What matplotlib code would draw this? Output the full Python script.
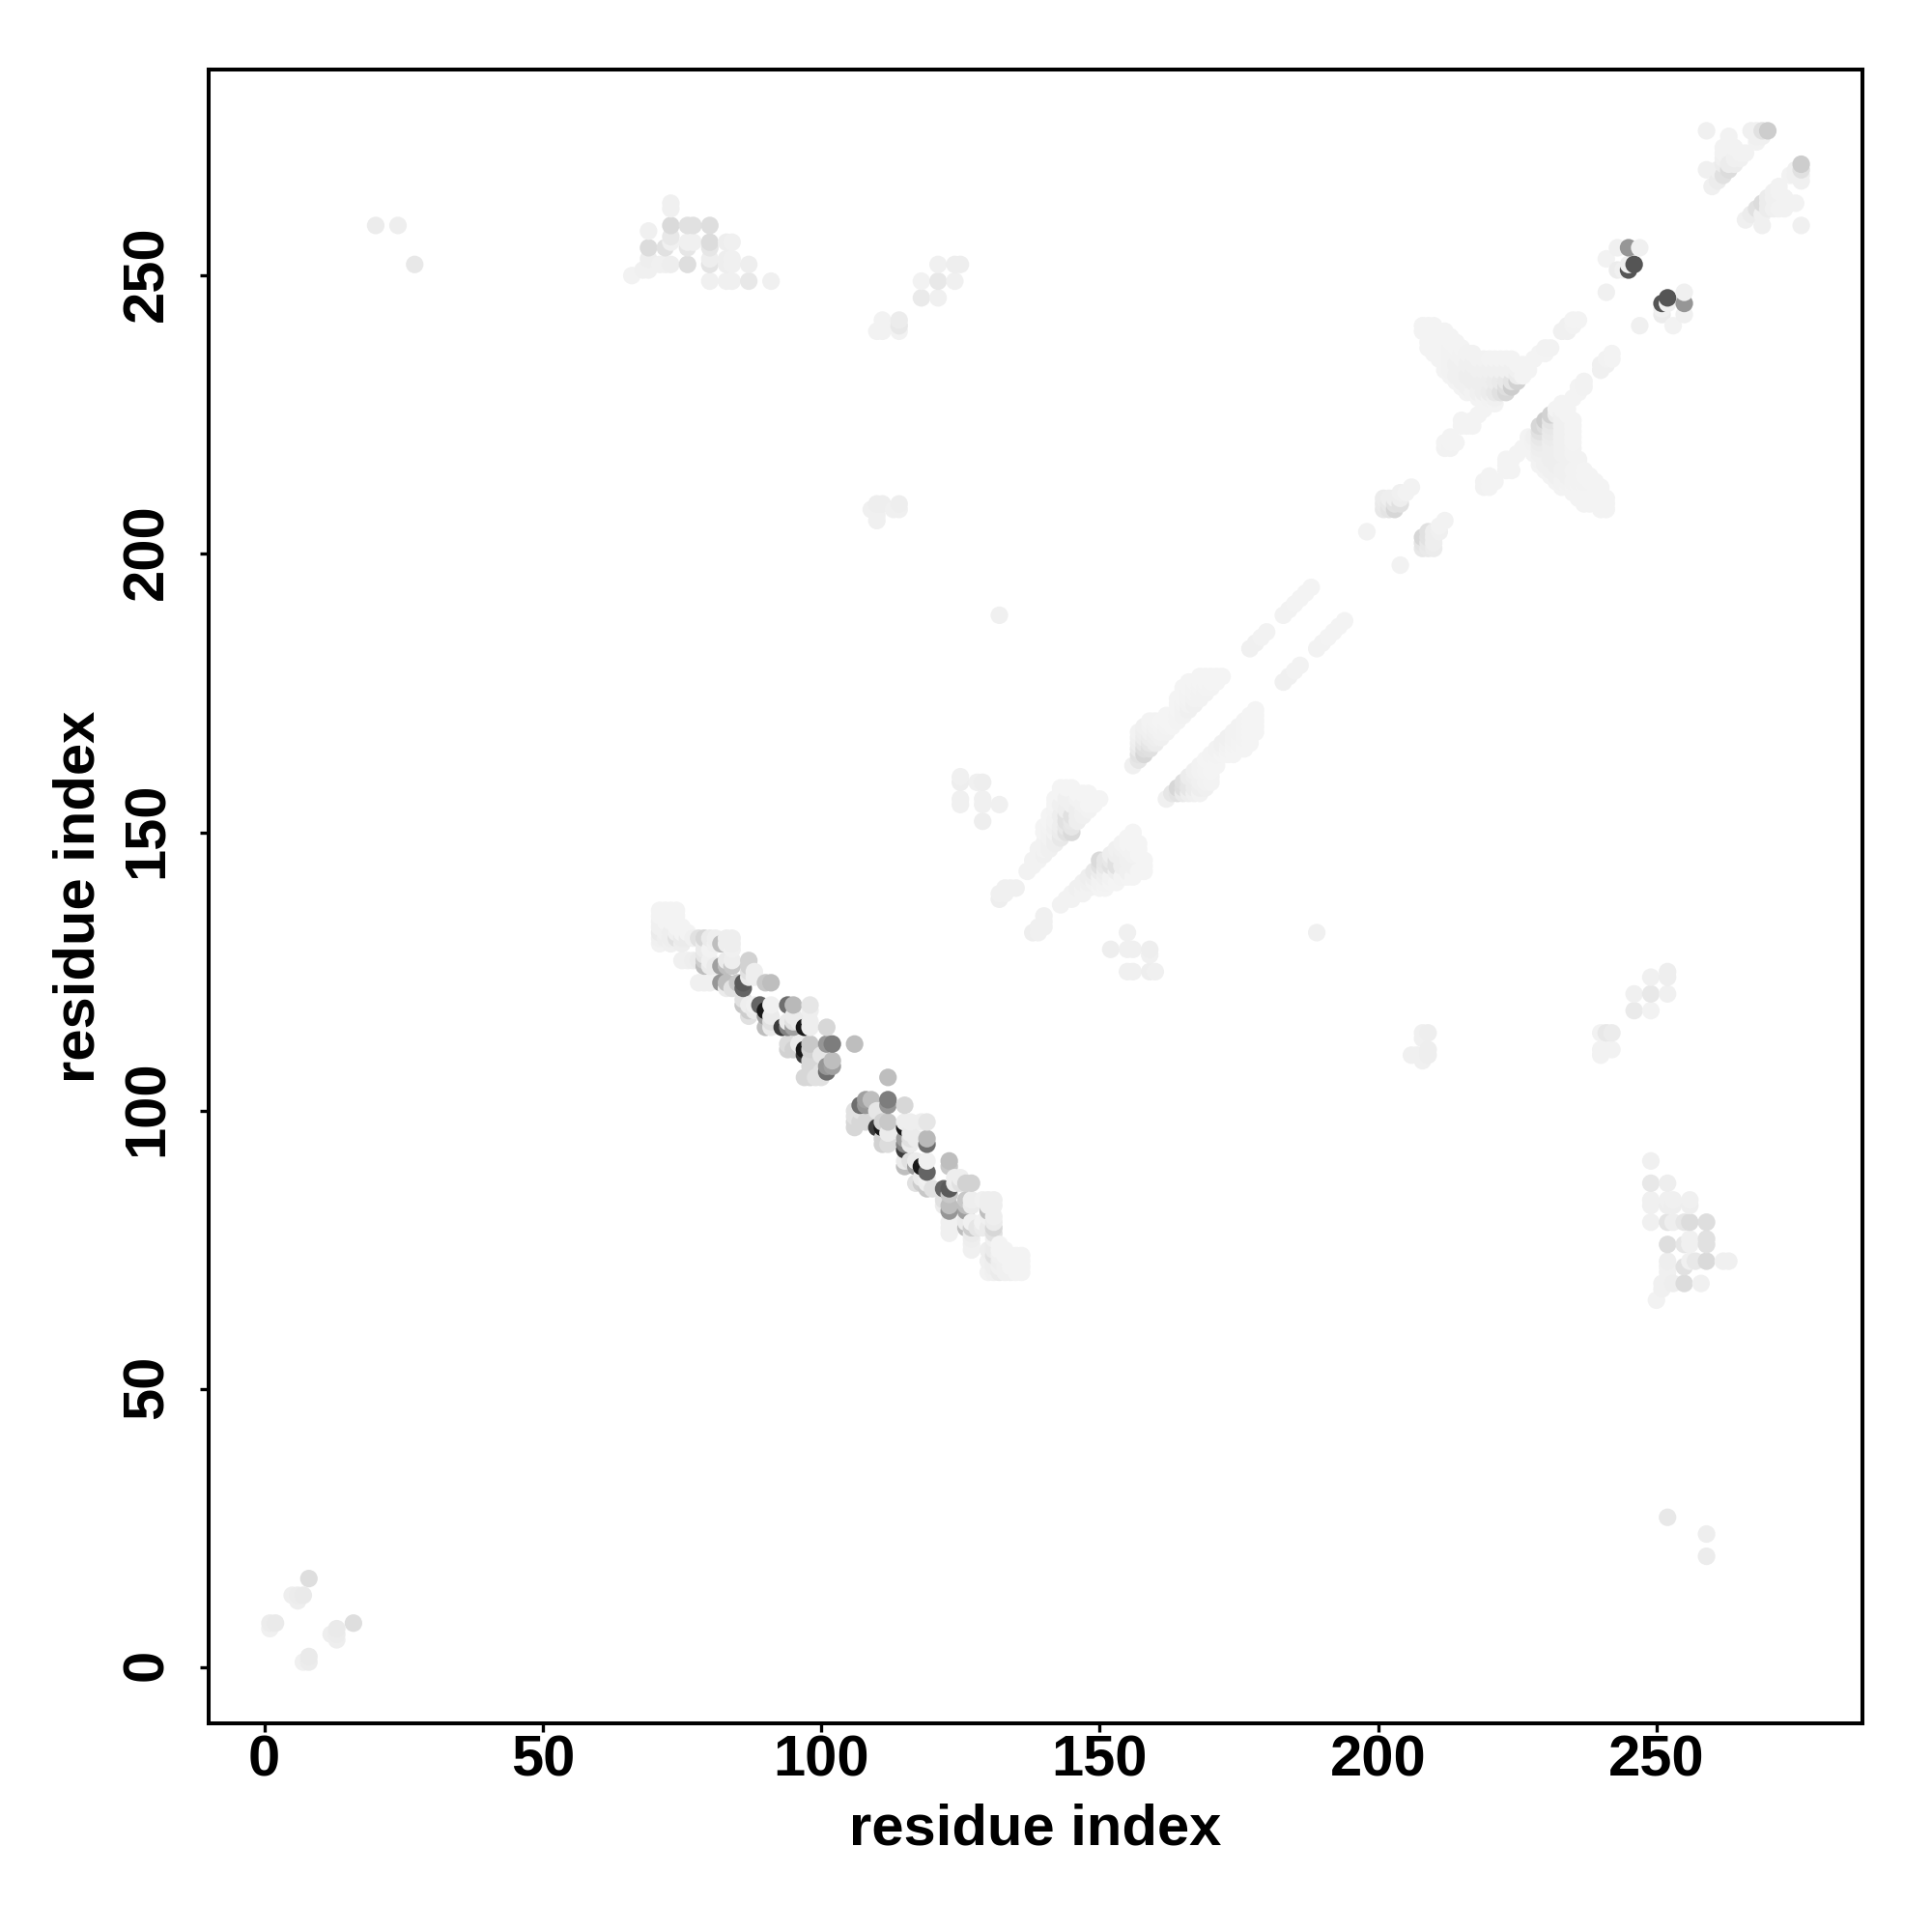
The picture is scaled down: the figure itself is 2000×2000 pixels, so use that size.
import numpy as np
import matplotlib
matplotlib.use("Agg")
import matplotlib.pyplot as plt
from matplotlib.transforms import ScaledTranslation

plt.rcParams['font.family'] = ['Liberation Sans', 'DejaVu Sans']

tick_values = [0, 50, 100, 150, 200, 250]
axis_label = "residue index"

# Contacts as (residue i, residue j, grey level 0-255); the map is symmetric.
corner_contacts = [
    (8,16,222),(5,13,238),(6,13,236),(7,13,234),(6,12,238),(1,7,240),(1,8,236),(2,8,234),
    (20,259,236),(24,259,238),(27,252,232),
]
far_a = [
    (66,250,242),(68,251,240),(69,251,240),(69,258,240),(69,255,220),(69,253,238),
    (71,252,240),(72,252,240),(73,252,238),(72,255,225),(73,256,240),(73,257,232),
    (73,259,218),(73,262,240),(73,263,240),(76,259,225),(77,259,225),(76,252,222),
    (76,255,230),(76,256,240),(77,256,240),(80,259,222),(80,256,220),(80,255,230),
    (80,253,238),(80,252,228),(80,249,240),(83,256,238),(84,256,240),(83,253,238),
    (84,253,240),(83,252,238),(84,252,240),(83,249,240),(84,249,240),(87,252,238),
    (87,249,232),(91,249,240),
]
far_b = [
    (121,252,240),(124,252,238),(125,252,238),(118,249,242),(121,249,232),(124,249,240),
    (118,246,234),(121,246,240),(110,240,242),(111,240,242),(111,241,242),(111,242,242),
    (112,241,242),(114,240,242),(114,241,232),(114,242,236),
    (110,209,238),(110,206,240),(109,208,240),(111,209,238),(114,209,238),(113,208,240),
    (110,207,240),(114,208,240),
    (125,160,240),(125,159,238),(128,159,240),(129,159,238),(125,155,240),(125,156,240),
    (129,155,240),(129,156,240),(132,155,240),(129,152,238),
    (132,189,240),
]
band = [
    (71,136,243),(72,136,243),(73,136,243),(74,136,243),(71,135,243),(72,135,243),(73,135,243),
    (74,135,243),(71,134,240),(72,134,243),(73,134,243),(71,133,240),(72,133,240),(74,133,243),
    (75,133,243),(71,132,235),(72,132,240),(73,132,238),(74,132,240),(75,132,243),(76,132,243),
    (71,131,240),(71,130,242),(73,130,240),(75,130,238),(79,130,235),(79,127,205),(79,128,230),
    (72,131,238),(73,131,238),(74,131,225),(75,131,235),(76,131,235),(77,131,240),(78,131,225),
    (79,131,215),(80,131,235),(81,131,238),(75,127,240),(76,127,240),(77,127,238),(78,127,235),
    (79,129,235),(80,129,242),(81,130,240),(82,130,190),(83,131,238),(84,131,238),(83,130,238),
    (84,130,238),(84,129,240),(78,123,240),(79,123,240),(80,123,240),(79,126,190),(80,127,240),
    (80,126,235),(81,126,235),(82,126,160),(83,126,190),(83,127,235),(84,126,200),(84,127,238),
    (82,123,150),(83,123,190),(83,122,235),(84,122,225),(85,123,200),(86,123,90),(87,124,235),
    (88,124,238),(87,127,210),(87,126,210),(87,125,225),(88,125,238),(86,119,200),(86,120,225),
    (86,122,100),(87,118,205),(87,119,238),(88,119,240),(87,117,225),(88,118,235),(89,119,100),
    (90,118,25),(91,119,240),(90,123,200),(91,123,190),(90,117,160),(91,117,235),(90,115,190),
    (91,115,235),(91,116,225),(93,115,60),(94,115,130),(94,116,235),(94,119,110),(95,119,185),
    (95,117,235),(95,116,225),(95,115,160),(96,116,235),(94,111,210),(95,111,210),(94,112,220),
    (96,112,235),(97,111,25),(97,115,25),(98,116,238),(98,115,238),(98,119,230),(98,118,238),
    (98,112,200),(97,110,60),(98,111,210),(98,109,215),(98,108,215),(98,107,215),(98,106,215),
    (97,106,215),(99,106,225),(100,106,225),(100,107,225),(101,107,110),(101,108,150),
    (102,108,160),(102,109,190),(101,112,150),(102,112,125),(101,115,215),(106,112,190),
    (100,110,230),
]
sheet_a = [
    (132,138,238),(132,139,240),(133,139,240),(133,140,240),(134,140,240),(135,140,240),
    (137,143,242),(138,144,242),(138,145,242),(139,145,242),(139,146,242),(139,147,242),
    (140,146,240),(140,147,242),(140,148,242),(140,150,244),(140,151,244),(141,147,240),
    (141,148,240),(141,149,242),(141,150,242),(141,151,243),(141,152,244),(141,153,244),
    (142,148,238),(142,149,238),(142,150,242),(142,151,240),(142,152,242),(142,154,243),
    (142,155,244),(142,156,244),(143,149,232),(143,150,236),(143,151,238),(143,153,238),
    (143,155,240),(143,157,244),(143,158,244),(144,150,225),(144,151,232),(144,152,225),
    (144,153,225),(144,154,238),(144,156,240),(144,158,244),(145,151,230),(145,150,218),
    (145,152,232),(145,153,225),(145,155,240),(145,158,244),(146,152,238),(146,153,238),
    (146,154,238),(146,156,242),(146,157,244),(147,153,240),(147,154,240),(147,155,242),
    (147,157,244),(148,154,242),(148,155,244),(148,156,244),(148,157,244),(149,155,244),
    (149,156,244),(150,156,244),
]
sheet_b = [
    (156,162,240),(157,163,230),(157,164,226),(157,165,234),(157,166,238),(157,167,240),(157,168,242),
    (158,164,215),(158,165,222),(158,166,230),(158,167,236),(158,168,238),(158,169,240),
    (159,165,224),(159,166,230),(159,167,236),(159,168,240),(159,169,242),(159,170,243),
    (160,166,236),(160,167,238),(160,168,240),(160,169,242),(160,170,243),(161,167,240),
    (161,168,242),(161,169,243),(161,170,244),(162,168,242),(162,169,243),(162,170,244),
    (162,171,244),(163,169,244),(163,170,244),(163,171,244),(164,170,243),(164,171,243),
    (164,172,244),(164,173,244),(164,174,244),(165,171,242),(165,172,242),(165,173,243),
    (165,174,244),(165,175,244),(165,176,244),(166,172,240),(166,173,242),(166,174,243),
    (166,175,243),(166,176,244),(166,177,244),(167,173,240),(167,174,242),(167,175,243),
    (167,176,243),(167,177,244),(168,174,242),(168,175,242),(168,176,243),(168,177,244),
    (168,178,244),(169,175,242),(169,176,243),(169,177,244),(169,178,244),(170,176,243),
    (170,177,244),(170,178,244),(171,177,244),(171,178,244),(172,178,244),
    (177,183,240),(178,184,240),(179,185,242),(180,186,242),(183,189,242),(184,190,242),
    (185,191,243),(186,192,243),(187,193,243),(188,194,243),
]
sheet_c = [
    (198,204,242),(201,208,232),(201,209,234),(201,210,236),(202,208,228),(202,209,232),
    (202,210,238),(203,208,215),(203,209,226),(203,210,238),(204,209,225),(204,210,238),
    (204,211,240),(205,211,242),(206,212,242),
    (212,219,242),(212,220,243),(213,219,242),(213,220,243),(213,221,243),(214,220,243),
    (215,223,243),(215,224,243),(216,223,243),(217,223,243),(217,224,243),(218,225,243),
    (219,226,243),(220,227,243),(221,227,243),
    (228,235,243),(229,236,243),(230,236,243),(230,237,242),(231,237,242),
    (233,240,240),(234,240,240),(234,241,240),(235,241,242),(235,242,243),(236,242,243),
    (241,247,240),
]
arm = [
    (208,240,243),(208,241,243),(209,241,243),(209,240,243),(209,238,243),(209,237,243),
    (210,241,243),(210,240,243),(210,238,243),(210,236,243),(211,240,243),(211,239,243),
    (211,237,243),(211,235,243),(212,240,243),(212,239,243),(212,237,243),(212,236,243),
    (212,235,243),(212,234,243),(212,233,243),(213,239,243),(213,238,243),(213,237,242),
    (213,236,242),(213,235,242),(213,234,242),(213,233,242),(213,232,243),(214,238,243),
    (214,237,243),(214,236,242),(214,234,240),(214,232,240),(214,231,243),(215,237,243),
    (215,236,242),(215,235,242),(215,233,240),(215,231,240),(215,230,243),(216,236,242),
    (216,234,240),(216,232,238),(216,230,240),(216,229,243),(217,236,242),(217,234,240),
    (217,232,238),(217,231,238),(217,229,242),(218,235,242),(218,233,240),(218,231,238),
    (218,229,240),(218,228,243),(219,235,242),(219,233,240),(219,231,238),(219,229,238),
    (219,228,243),(220,235,243),(220,233,240),(220,231,238),(220,229,236),(220,228,242),
    (221,235,243),(221,233,240),(221,231,236),(221,229,232),(221,228,240),(222,235,243),
    (222,233,240),(222,231,234),(222,229,225),(223,235,243),(223,233,240),(223,231,232),
    (223,230,222),(223,229,215),(224,235,243),(224,233,240),(224,231,228),(224,230,205),
    (225,234,243),(225,233,240),(225,232,236),(225,231,210),(226,234,243),(226,233,243),
    (226,232,243),(227,233,243),
]
ends = [
    (243,255,240),(245,255,150),(247,255,240),(243,251,236),(244,251,240),(245,251,85),
    (245,252,240),(246,252,85),(241,253,242),
    (259,276,240),(259,269,240),(260,266,240),(261,267,236),(261,269,240),(262,268,225),
    (263,269,220),(262,270,236),(263,270,236),(262,271,240),(262,272,242),(262,273,242),
    (263,274,242),(263,275,242),(264,270,236),(264,271,240),(265,271,240),(265,272,242),
    (266,272,242),(264,273,242),(267,276,240),(268,276,240),(269,276,225),(270,276,205),
    (268,275,240),(269,275,240),(268,274,242),
]

groups = [corner_contacts, far_a, far_b, band, sheet_a, sheet_b, sheet_c, arm, ends]
contacts = np.array([c for g in groups for c in g], dtype=float)
xs = np.concatenate([contacts[:, 0], contacts[:, 1]])
ys = np.concatenate([contacts[:, 1], contacts[:, 0]])
gs = np.concatenate([contacts[:, 2], contacts[:, 2]]) / 255.0
order = np.lexsort((ys, xs))

fig = plt.figure(figsize=(10, 10), dpi=200, facecolor='white')
ax = fig.add_axes([216/2000, 1-1784/2000, 1712/2000, 1712/2000])
ax.scatter(xs[order], ys[order], s=43, c=np.repeat(gs[order][:, None], 3, axis=1),
           linewidths=0, zorder=2)
ax.set_xlim(-10, 287)
ax.set_ylim(-10, 287)
ax.set_xticks(tick_values)
ax.set_yticks(tick_values)
ax.tick_params(axis='x', length=3.2, width=1.2, pad=1, labelsize=21.5)
ax.tick_params(axis='y', length=3.2, width=1.2, pad=9.6, labelsize=21.5)
for lab in ax.get_xticklabels():
    lab.set_fontweight('bold')
for lab in ax.get_yticklabels():
    lab.set_fontweight('bold')
    lab.set_rotation(90)
    lab.set_va('center')
    lab.set_transform(lab.get_transform() + ScaledTranslation(0, 2.5/200, fig.dpi_scale_trans))
for s in ax.spines.values():
    s.set_linewidth(1.45)
ax.set_xlabel(axis_label, fontsize=21.5, fontweight='bold', va='center')
ax.set_ylabel(axis_label, fontsize=21.5, fontweight='bold', va='center')
ax.xaxis.set_label_coords(0.5, -0.0645)
ax.yaxis.set_label_coords(-0.0785, 0.5)
fig.savefig('out.png', dpi=200, facecolor='white')
